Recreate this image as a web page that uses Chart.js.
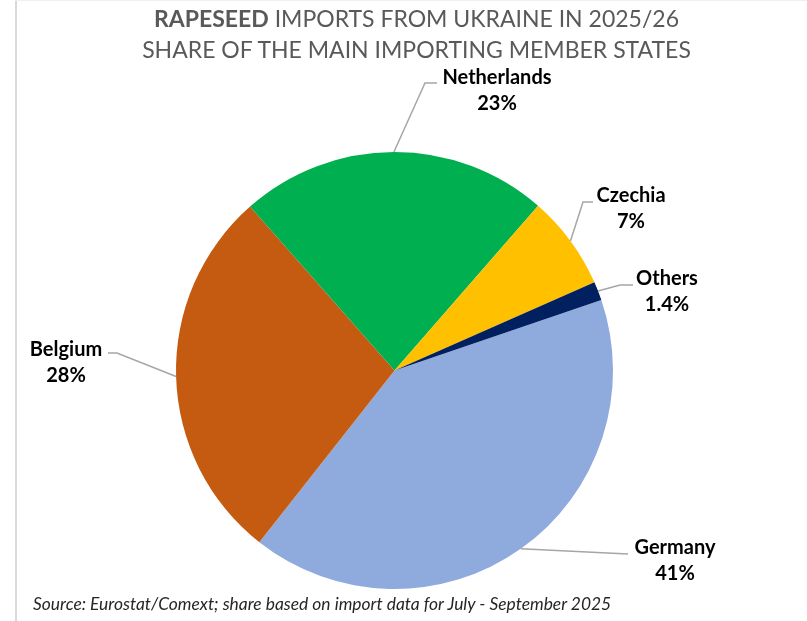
<!DOCTYPE html>
<html>
<head>
<meta charset="utf-8">
<script src="https://cdn.jsdelivr.net/npm/chart.js@4"></script>
<style>
  html, body { margin: 0; padding: 0; background: #fff; }
  #wrap { position: relative; width: 807px; height: 621px; overflow: hidden; background: #fff; }
  #leftbar { position: absolute; left: 15px; top: 0; width: 2px; height: 621px; background: #d9d9d9; }
  #topbar { position: absolute; left: 15px; top: 0; width: 792px; height: 1px; background: #f0f0f0; }
  #title { position: absolute; left: 0; top: 3px; width: 833px; text-align: center;
           font-family: Lato, "Open Sans", sans-serif; font-size: 23px; line-height: 31px; color: #595959; }
  #title b { font-weight: 700; }
  #source { position: absolute; left: 33px; top: 593px; font-family: Lato, sans-serif; font-style: italic;
            font-size: 17.4px; line-height: 22px; color: #262626; white-space: nowrap; }
  canvas { position: absolute; left: 0; top: 0; }
</style>
</head>
<body>
<div id="wrap">
  <div id="leftbar"></div>
  <div id="topbar"></div>
  <canvas id="c" width="807" height="621"></canvas>
  <div id="title"><b>RAPESEED</b> IMPORTS FROM UKRAINE IN 2025/26<br>SHARE OF THE MAIN IMPORTING MEMBER STATES</div>
  <div id="source">Source: Eurostat/Comext; share based on import data for July - September 2025</div>
</div>
<script>
// ---- data ----
const countries = ["Germany", "Belgium", "Netherlands", "Czechia", "Others"];
const shares = [41, 28, 23, 7, 1.4];
const shareLabels = ["41%", "28%", "23%", "7%", "1.4%"];
const colors = ["#8FAADC", "#C55A11", "#00B050", "#FFC000", "#002060"];

// ---- label layout (style, not data): label centre and leader elbow/end ----
const labelLayout = [
  { x: 675, y: 548, elbow: null,      end: [628, 554] },   // Germany
  { x: 66,  y: 350, elbow: [117, 353], end: [108, 353] }, // Belgium
  { x: 497, y: 78,  elbow: [425, 83],  end: [437, 83] },  // Netherlands
  { x: 631, y: 196, elbow: [583, 202], end: [593, 202] }, // Czechia
  { x: 667, y: 279, elbow: [620, 285], end: [633, 285] }  // Others
];

const labelPlugin = {
  id: 'pieLabels',
  afterDatasetsDraw(chart) {
    const ctx = chart.ctx;
    const meta = chart.getDatasetMeta(0);
    meta.data.forEach((arc, i) => {
      const p = arc.getProps(['x', 'y', 'startAngle', 'endAngle', 'outerRadius'], true);
      const mid = (p.startAngle + p.endAngle) / 2;
      const ax = p.x + Math.cos(mid) * p.outerRadius;
      const ay = p.y + Math.sin(mid) * p.outerRadius;
      const L = labelLayout[i];
      ctx.save();
      ctx.strokeStyle = '#A6A6A6';
      ctx.lineWidth = 1.5;
      ctx.beginPath();
      ctx.moveTo(ax, ay);
      if (L.elbow) ctx.lineTo(L.elbow[0], L.elbow[1]);
      ctx.lineTo(L.end[0], L.end[1]);
      ctx.stroke();
      ctx.fillStyle = '#000';
      ctx.font = 'bold 20px Lato, "Open Sans", sans-serif';
      ctx.textAlign = 'center';
      ctx.textBaseline = 'middle';
      ctx.fillText(countries[i], L.x, L.y);
      ctx.fillText(shareLabels[i], L.x, L.y + 26);
      ctx.restore();
    });
  }
};

new Chart(document.getElementById('c'), {
  type: 'pie',
  data: {
    labels: countries,
    datasets: [{
      data: shares,
      backgroundColor: colors,
      borderWidth: 0
    }]
  },
  options: {
    responsive: false,
    animation: false,
    rotation: 71.2,
    layout: { padding: { left: 176, top: 152, right: 194, bottom: 32 } },
    plugins: {
      legend: { display: false },
      tooltip: { enabled: false },
      title: { display: false }
    }
  },
  plugins: [labelPlugin]
});
</script>
</body>
</html>
